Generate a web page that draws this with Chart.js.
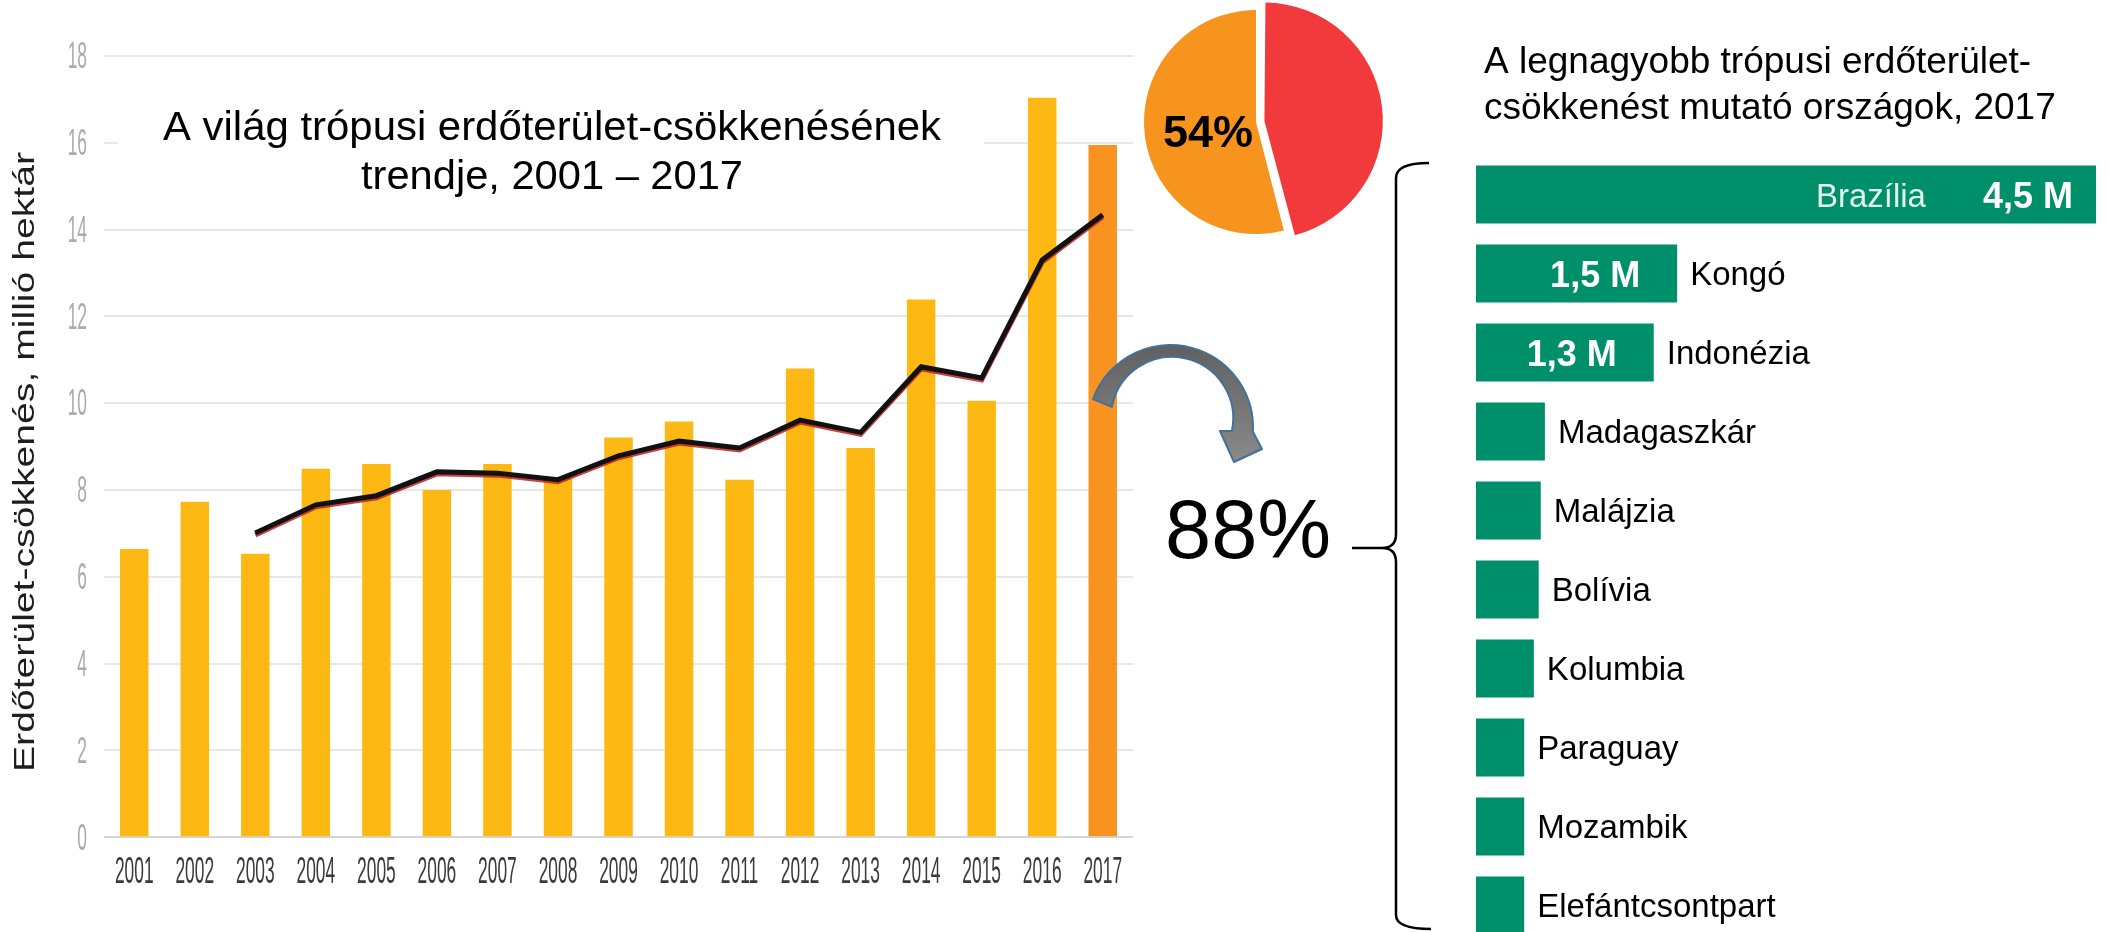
<!DOCTYPE html>
<html><head><meta charset="utf-8">
<script src="https://cdn.jsdelivr.net/npm/chart.js@4.4.0/dist/chart.umd.min.js"></script>
<style>
html,body{margin:0;padding:0;background:#fff;overflow:hidden;width:2110px;height:932px;}
.box{position:absolute;}
</style></head><body>
<div class="box" style="left:0;top:0;"><canvas id="main" width="2110" height="932"></canvas></div>
<div class="box" style="left:1106px;top:-28px;"><canvas id="pie" width="300" height="300"></canvas></div>
<div class="box" style="left:1476px;top:155px;"><canvas id="hbar" width="634" height="790"></canvas></div>
<script>
// ---- data ----
const years = ['2001','2002','2003','2004','2005','2006','2007','2008','2009','2010','2011','2012','2013','2014','2015','2016','2017'];
const lossValues = [6.64,7.73,6.53,8.49,8.6,8.0,8.6,8.3,9.21,9.58,8.24,10.8,8.97,12.39,10.06,17.04,15.95];
const trendValues = [null,null,7.01,7.66,7.87,8.42,8.39,8.24,8.79,9.13,8.97,9.61,9.33,10.84,10.58,13.3,14.34];
const yTickValues = [0,2,4,6,8,10,12,14,16,18];

const pieLabels = ['Egyéb', 'Top 3'];
const pieShares = [46, 54];
const pieText = '54%';

const countries = ['Brazília','Kongó','Indonézia','Madagaszkár','Malájzia','Bolívia','Kolumbia','Paraguay','Mozambik','Elefántcsontpart'];
const countryLoss = [4.5,1.46,1.29,0.5,0.47,0.455,0.42,0.35,0.35,0.35];
const valueLabels = ['4,5 M','1,5 M','1,3 M','','','','','','',''];

const leftTitle = ['A világ trópusi erdőterület-csökkenésének', 'trendje, 2001 – 2017'];
const rightTitle = ['A legnagyobb trópusi erdőterület-', 'csökkenést mutató országok, 2017'];
const yAxisTitle = 'Erdőterület-csökkenés, millió hektár';
const bigPercent = '88%';

// ---- helpers ----
const FF = '"Liberation Sans", Arial, sans-serif';
function scaledText(ctx, text, x, y, font, sx, align, baseline, color) {
  ctx.save();
  ctx.translate(x, y);
  ctx.scale(sx, 1);
  ctx.font = font;
  ctx.textAlign = align;
  ctx.textBaseline = baseline;
  ctx.fillStyle = color;
  ctx.fillText(text, 0, 0);
  ctx.restore();
}
function fitText(ctx, text, x, y, font, width, color) {
  ctx.save();
  ctx.font = font;
  const w = ctx.measureText(text).width;
  ctx.translate(x, y);
  ctx.scale(width / w, 1);
  ctx.textAlign = 'left';
  ctx.textBaseline = 'alphabetic';
  ctx.fillStyle = color;
  ctx.fillText(text, 0, 0);
  ctx.restore();
}
const deg = d => d * Math.PI / 180;

// ---- main bar + line chart ----
const mainPlugin = {
  id: 'mainDeco',
  beforeDatasetsDraw(chart) {
    const ctx = chart.ctx;
    ctx.save();
    ctx.fillStyle = '#fff';
    ctx.fillRect(118, 98, 866, 106);
    ctx.restore();
  },
  beforeDatasetDraw(chart, args) {
    if (args.meta.type === 'line') {
      const ctx = chart.ctx;
      ctx.save();
      ctx.shadowColor = 'rgba(190,30,30,0.85)';
      ctx.shadowOffsetY = 2;
      ctx.shadowBlur = 0;
    }
  },
  afterDatasetDraw(chart, args) {
    if (args.meta.type === 'line') chart.ctx.restore();
  },
  afterDraw(chart) {
    const ctx = chart.ctx;
    const xs = chart.scales.x, ys = chart.scales.y;
    // x tick labels
    years.forEach((y, i) => {
      scaledText(ctx, y, xs.getPixelForValue(i), 873, '37px ' + FF, 0.47, 'center', 'middle', '#3a3a3a');
    });
    // y tick labels
    yTickValues.forEach(v => {
      scaledText(ctx, String(v), 87, ys.getPixelForValue(v) + 2, '37px ' + FF, 0.47, 'right', 'middle', '#ababab');
    });
    // y axis title (rotated, stretched along its direction)
    ctx.save();
    ctx.font = '30px ' + FF;
    const w = ctx.measureText(yAxisTitle).width;
    ctx.translate(34, 772);
    ctx.rotate(-Math.PI / 2);
    ctx.scale(620 / w, 1);
    ctx.fillStyle = '#1e1e1e';
    ctx.textAlign = 'left';
    ctx.textBaseline = 'alphabetic';
    ctx.fillText(yAxisTitle, 0, 0);
    ctx.restore();
    // left title
    fitText(ctx, leftTitle[0], 163, 140, '40px ' + FF, 778, '#000');
    fitText(ctx, leftTitle[1], 361, 189, '40px ' + FF, 382, '#000');
    // right title
    ctx.save();
    ctx.fillStyle = '#000';
    ctx.textAlign = 'left';
    ctx.textBaseline = 'alphabetic';
    ctx.font = '37px ' + FF;
    ctx.fillText(rightTitle[0], 1484, 73);
    ctx.fillText(rightTitle[1], 1484, 119);
    // 88%
    ctx.font = '83px ' + FF;
    ctx.fillText(bigPercent, 1165, 558);
    ctx.restore();
    // curved arrow
    ctx.save();
    ctx.beginPath();
    ctx.arc(1170.5, 427.5, 82.5, deg(200.2), deg(363), false);
    ctx.lineTo(1262, 449);
    ctx.lineTo(1234, 462);
    ctx.lineTo(1220, 431);
    ctx.lineTo(1231.8, 430.9);
    ctx.arc(1172, 418, 61.2, deg(12.2), deg(190.4), true);
    ctx.closePath();
    const g = ctx.createLinearGradient(0, 345, 0, 462);
    g.addColorStop(0, '#606060');
    g.addColorStop(1, '#8a8a8a');
    ctx.fillStyle = g;
    ctx.fill();
    ctx.lineWidth = 2;
    ctx.strokeStyle = '#41719C';
    ctx.lineJoin = 'round';
    ctx.stroke();
    ctx.restore();
    // brace
    ctx.save();
    ctx.strokeStyle = '#000';
    ctx.lineWidth = 2.5;
    ctx.beginPath();
    ctx.moveTo(1429, 163);
    ctx.quadraticCurveTo(1396, 163, 1396, 178);
    ctx.lineTo(1396, 534);
    ctx.quadraticCurveTo(1396, 548, 1382, 548);
    ctx.quadraticCurveTo(1396, 548, 1396, 562);
    ctx.lineTo(1396, 915);
    ctx.quadraticCurveTo(1396, 929, 1431, 929);
    ctx.moveTo(1352, 548);
    ctx.lineTo(1382, 548);
    ctx.stroke();
    ctx.restore();
  }
};

new Chart(document.getElementById('main'), {
  type: 'bar',
  data: {
    labels: years,
    datasets: [
      {
        type: 'line',
        label: 'trend',
        data: trendValues,
        borderColor: '#111',
        borderWidth: 5,
        pointRadius: 0,
        tension: 0,
        fill: false,
        order: 0
      },
      {
        type: 'bar',
        label: 'loss',
        data: lossValues,
        backgroundColor: years.map(y => y === '2017' ? '#F7931E' : '#FDB813'),
        borderWidth: 0,
        barPercentage: 0.47,
        categoryPercentage: 1,
        order: 1
      }
    ]
  },
  options: {
    responsive: false,
    animation: false,
    layout: { padding: { left: 104, right: 977, top: 56, bottom: 94.7 } },
    plugins: { legend: { display: false }, tooltip: { enabled: false }, title: { display: false } },
    scales: {
      x: {
        type: 'category', offset: true,
        grid: { display: false, drawTicks: false },
        border: { display: false },
        ticks: { display: false }
      },
      y: {
        min: 0, max: 18,
        ticks: { display: false, stepSize: 2 },
        grid: { color: c => c.tick && c.tick.value === 0 ? '#d6d6d6' : '#e8e8e8', lineWidth: 2, drawTicks: false },
        border: { display: false }
      }
    }
  },
  plugins: [mainPlugin]
});

// ---- pie ----
const piePlugin = {
  id: 'pieLabel',
  afterDraw(chart) {
    const arc = chart.getDatasetMeta(0).data[1];
    const ctx = chart.ctx;
    ctx.save();
    ctx.font = 'bold 45px ' + FF;
    ctx.fillStyle = '#000';
    ctx.textAlign = 'left';
    ctx.textBaseline = 'alphabetic';
    ctx.fillText(pieText, arc.x - 93, arc.y + 25);
    ctx.restore();
  }
};
new Chart(document.getElementById('pie'), {
  type: 'pie',
  data: {
    labels: pieLabels,
    datasets: [{
      data: pieShares,
      backgroundColor: ['#F23A3C', '#F7941D'],
      borderWidth: 0,
      offset: [34, 0]
    }]
  },
  options: {
    responsive: false,
    animation: false,
    radius: 112,
    layout: { padding: 0, autoPadding: false },
    plugins: { legend: { display: false }, tooltip: { enabled: false } }
  },
  plugins: [piePlugin]
});

// ---- horizontal bar ----
const hbarPlugin = {
  id: 'hbarLabels',
  afterDatasetsDraw(chart) {
    const ctx = chart.ctx;
    const bars = chart.getDatasetMeta(0).data;
    ctx.save();
    ctx.textBaseline = 'alphabetic';
    bars.forEach((bar, i) => {
      const end = bar.x, cy = bar.y;
      if (i === 0) {
        ctx.font = 'bold 36px ' + FF;
        ctx.fillStyle = '#fff';
        ctx.textAlign = 'right';
        ctx.fillText(valueLabels[i], end - 23, cy + 13);
        const vw = ctx.measureText(valueLabels[i]).width;
        ctx.font = '33px ' + FF;
        ctx.fillStyle = '#e3f3ec';
        ctx.fillText(countries[i], end - 23 - vw - 57, cy + 12);
      } else {
        if (valueLabels[i]) {
          ctx.font = 'bold 36px ' + FF;
          ctx.fillStyle = '#fff';
          ctx.textAlign = 'right';
          ctx.fillText(valueLabels[i], end - 37, cy + 13);
        }
        ctx.font = '33px ' + FF;
        ctx.fillStyle = '#000';
        ctx.textAlign = 'left';
        ctx.fillText(countries[i], end + 13, cy + 11);
      }
    });
    ctx.restore();
  }
};
new Chart(document.getElementById('hbar'), {
  type: 'bar',
  data: {
    labels: countries,
    datasets: [{
      data: countryLoss,
      backgroundColor: '#008F6B',
      borderWidth: 0,
      barPercentage: 0.734,
      categoryPercentage: 1
    }]
  },
  options: {
    indexAxis: 'y',
    responsive: false,
    animation: false,
    layout: { padding: { left: 0, right: 14, top: 0, bottom: 0 } },
    plugins: { legend: { display: false }, tooltip: { enabled: false } },
    scales: {
      x: { min: 0, max: 4.5, display: false },
      y: { type: 'category', offset: true, display: false }
    }
  },
  plugins: [hbarPlugin]
});
</script>
</body></html>
